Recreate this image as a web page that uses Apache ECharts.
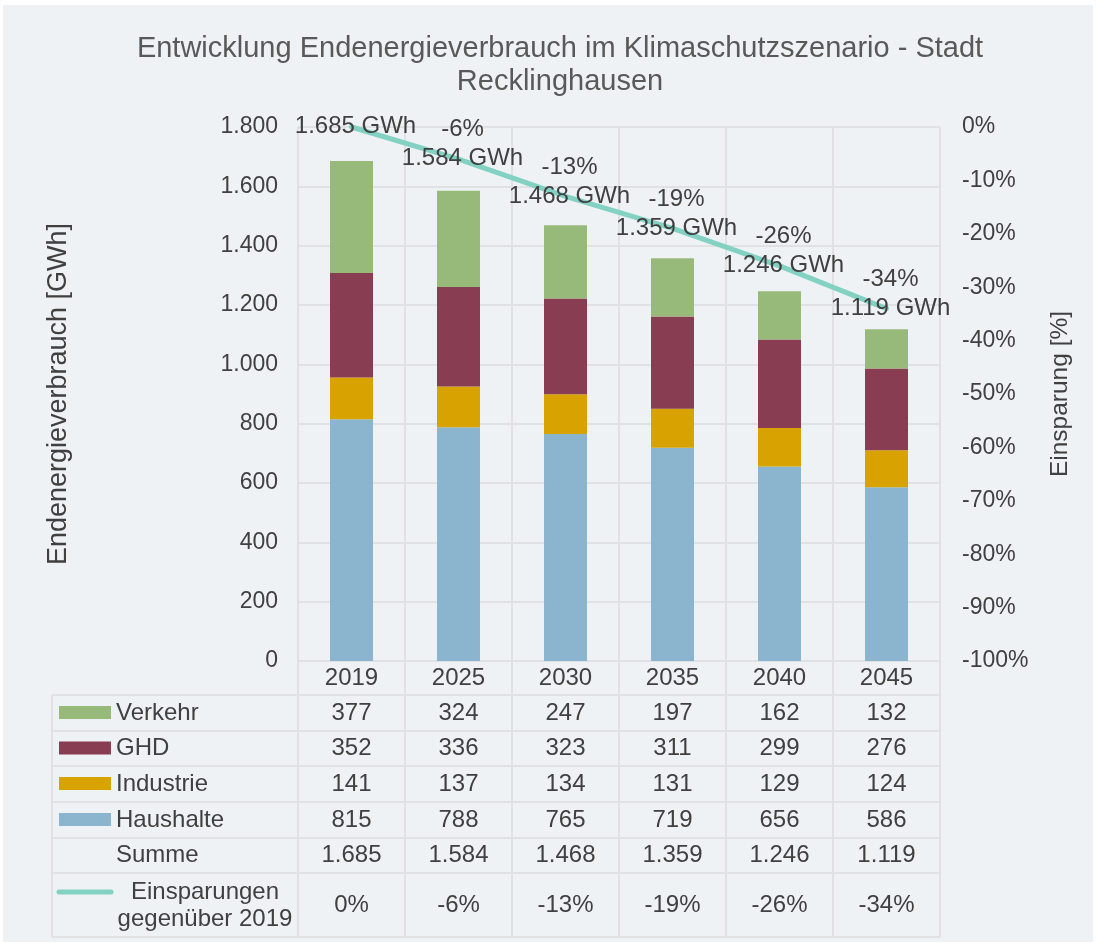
<!DOCTYPE html>
<html>
<head>
<meta charset="utf-8">
<script src="https://cdn.jsdelivr.net/npm/echarts@6/dist/echarts.min.js"></script>
<style>
  html, body { margin: 0; padding: 0; background: #ffffff; }
  #main { position: absolute; left: 3px; top: 5px; width: 1090px; height: 937px; }
</style>
</head>
<body>
<div id="main"></div>
<script>
// Daten
var jahre = ['2019', '2025', '2030', '2035', '2040', '2045'];
var verkehr = [377, 324, 247, 197, 162, 132];
var ghd = [352, 336, 323, 311, 299, 276];
var industrie = [141, 137, 134, 131, 129, 124];
var haushalte = [815, 788, 765, 719, 656, 586];
var summe = [1685, 1584, 1468, 1359, 1246, 1119];
var einsparung = [0, -6, -13, -19, -26, -34];

var FONT = "'Liberation Sans', Arial, sans-serif";
var TXT = '#404040';
var GRID = '#dfe1e3';

// Tabellen-Geometrie (Pixel im Chart)
var plotLeft = 295, plotRight = 937, plotTop = 122, plotBottom = 656;
var tabLeft = 49;
var tabLines = [690, 726, 761, 797, 833, 868, 932];

function fmt(n) {
  if (n >= 1000) return Math.floor(n / 1000) + '.' + String(n % 1000).padStart(3, '0');
  return String(n);
}
function pct(v) { return v + '%'; }

var chart = echarts.init(document.getElementById('main'));

// Tabellenzeilen als zusaetzliche x-Achsen
var tabRows = [
  { name: 'Verkehr', color: '#97ba7a', data: verkehr.map(fmt) },
  { name: 'GHD', color: '#893d52', data: ghd.map(fmt) },
  { name: 'Industrie', color: '#d8a300', data: industrie.map(fmt) },
  { name: 'Haushalte', color: '#8bb4cf', data: haushalte.map(fmt) },
  { name: 'Summe', color: null, data: summe.map(fmt) },
  { name: 'Einsparungen\ngegenüber 2019', color: 'line', data: einsparung.map(pct) }
];

var xAxes = [{
  type: 'category',
  data: jahre,
  position: 'bottom',
  axisLine: { show: false },
  axisTick: { show: true, length: tabLines[tabLines.length - 1] - plotBottom, lineStyle: { color: GRID, width: 2 } },
  splitLine: { show: true, lineStyle: { color: GRID, width: 2 } },
  axisLabel: { color: TXT, fontSize: 24, fontFamily: FONT, margin: 17, verticalAlign: 'middle' }
}];
tabRows.forEach(function (r, i) {
  var center = (tabLines[i] + tabLines[i + 1]) / 2;
  xAxes.push({
    type: 'category',
    data: r.data,
    position: 'bottom',
    axisLine: { show: false },
    axisTick: { show: false },
    splitLine: { show: false },
    axisLabel: { color: TXT, fontSize: 24, fontFamily: FONT, margin: center - plotBottom, verticalAlign: 'middle' }
  });
});

// Tabellen-Grafik: Linien, Legendenfelder, Beschriftungen
var graphics = [];
tabLines.forEach(function (y) {
  graphics.push({ type: 'line', shape: { x1: tabLeft, y1: y, x2: plotRight, y2: y }, style: { stroke: GRID, lineWidth: 2 }, z: 1 });
});
graphics.push({ type: 'line', shape: { x1: tabLeft, y1: tabLines[0], x2: tabLeft, y2: tabLines[6] }, style: { stroke: GRID, lineWidth: 2 }, z: 1 });
tabRows.forEach(function (r, i) {
  var center = (tabLines[i] + tabLines[i + 1]) / 2;
  if (r.color === 'line') {
    graphics.push({ type: 'line', shape: { x1: 56, y1: center - 13, x2: 108, y2: center - 13 }, style: { stroke: '#82d1c3', lineWidth: 5, lineCap: 'round' }, z: 5 });
    graphics.push({ type: 'text', x: 202, y: center + 1, style: { text: r.name, fill: TXT, font: '24px ' + FONT, textAlign: 'center', textVerticalAlign: 'middle', lineHeight: 27 }, z: 5 });
  } else {
    if (r.color) {
      graphics.push({ type: 'rect', shape: { x: 56, y: center - 7, width: 52, height: 13 }, style: { fill: r.color }, z: 5 });
    }
    graphics.push({ type: 'text', x: 113, y: center, style: { text: r.name, fill: TXT, font: '24px ' + FONT, textAlign: 'left', textVerticalAlign: 'middle' }, z: 5 });
  }
});

var option = {
  backgroundColor: '#eef2f5',
  animation: false,
  title: {
    text: 'Entwicklung Endenergieverbrauch im Klimaschutzszenario - Stadt\nRecklinghausen',
    left: 552,
    top: 22,
    textAlign: 'center',
    textStyle: { color: '#595959', fontSize: 29, fontWeight: 'normal', fontFamily: FONT, lineHeight: 33 }
  },
  grid: { left: plotLeft, right: 1090 - plotRight, top: plotTop, bottom: 937 - plotBottom },
  xAxis: xAxes,
  yAxis: [{
    type: 'value',
    min: 0, max: 1800, interval: 200,
    name: 'Endenergieverbrauch [GWh]',
    nameLocation: 'middle',
    nameGap: 226,
    nameRotate: 90,
    nameTextStyle: { color: TXT, fontSize: 27, fontFamily: FONT },
    axisLine: { show: false },
    axisTick: { show: false },
    splitLine: { lineStyle: { color: GRID, width: 2 } },
    axisLabel: { color: TXT, fontSize: 23, fontFamily: FONT, margin: 20, formatter: fmt }
  }, {
    type: 'value',
    min: -100, max: 0, interval: 10,
    position: 'right',
    name: 'Einsparung [%]',
    nameLocation: 'middle',
    nameGap: 108,
    nameRotate: 90,
    nameTextStyle: { color: TXT, fontSize: 24.5, fontFamily: FONT },
    axisLine: { show: false },
    axisTick: { show: false },
    splitLine: { show: false },
    axisLabel: { color: TXT, fontSize: 23, fontFamily: FONT, margin: 22, formatter: pct }
  }],
  graphic: graphics,
  series: [
    { name: 'Haushalte', type: 'bar', stack: 'a', barWidth: 43, data: haushalte, itemStyle: { color: '#8bb4cf' } },
    { name: 'Industrie', type: 'bar', stack: 'a', data: industrie, itemStyle: { color: '#d8a300' } },
    { name: 'GHD', type: 'bar', stack: 'a', data: ghd, itemStyle: { color: '#893d52' } },
    { name: 'Verkehr', type: 'bar', stack: 'a', data: verkehr, itemStyle: { color: '#97ba7a' } },
    {
      name: 'Einsparungen gegenüber 2019',
      type: 'line',
      yAxisIndex: 1,
      data: einsparung,
      symbol: 'circle',
      symbolSize: 1,
      showSymbol: true,
      itemStyle: { color: '#82d1c3' },
      lineStyle: { color: '#82d1c3', width: 5, cap: 'round' },
      z: 10,
      label: {
        show: true,
        position: 'inside',
        offset: [4, -15],
        color: TXT,
        fontFamily: FONT,
        formatter: function (p) {
          var top = p.dataIndex === 0 ? ' ' : pct(einsparung[p.dataIndex]);
          return '{p|' + top + '}\n{g|' + fmt(summe[p.dataIndex]) + ' GWh}';
        },
        rich: {
          p: { fontSize: 24, lineHeight: 29, color: TXT, fontFamily: FONT, align: 'center' },
          g: { fontSize: 24, lineHeight: 29, color: TXT, fontFamily: FONT, align: 'center' }
        }
      }
    }
  ]
};
chart.setOption(option);
</script>
</body>
</html>
